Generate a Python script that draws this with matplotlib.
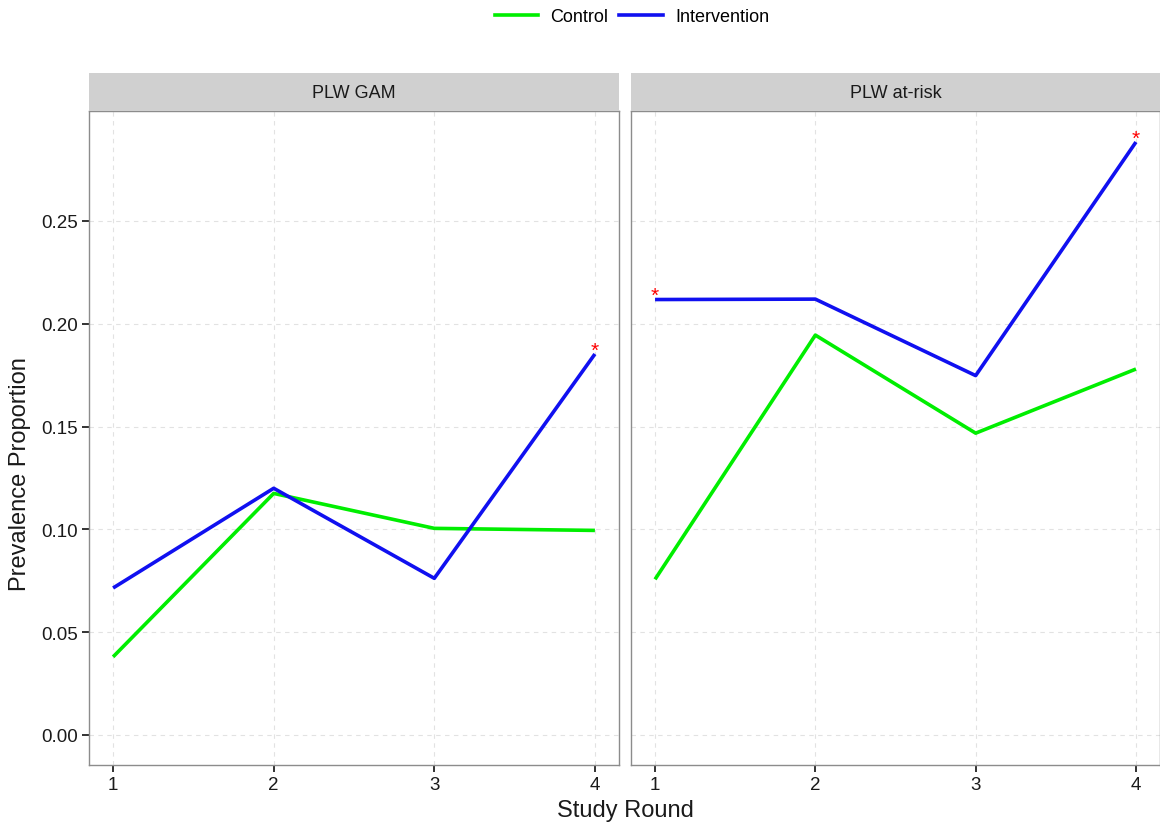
import matplotlib
matplotlib.use("Agg")
import matplotlib.pyplot as plt
from matplotlib.lines import Line2D

plt.rcParams['font.family'] = ['Liberation Sans', 'DejaVu Sans']

rounds = [1, 2, 3, 4]
panels = ["PLW GAM", "PLW at-risk"]
control_gam = [0.038, 0.1175, 0.1005, 0.0995]
interv_gam = [0.0715, 0.120, 0.0762, 0.1853]
control_risk = [0.0757, 0.1945, 0.1468, 0.1780]
interv_risk = [0.2118, 0.2120, 0.1748, 0.2884]
# significance flags (intervention)
sig_gam = [False, False, False, True]
sig_risk = [True, False, False, True]
yticks = [0.00, 0.05, 0.10, 0.15, 0.20, 0.25]
ytick_labels = ["0.00", "0.05", "0.10", "0.15", "0.20", "0.25"]

green = "#00EE00"
blue = "#1010F0"

W, H = 1160, 829
fig = plt.figure(figsize=(W / 100, H / 100), dpi=100)

top, bottom = 112, 766
strip_top = 74
lefts = [(89, 619), (631, 1160)]

data = [(control_gam, interv_gam, sig_gam), (control_risk, interv_risk, sig_risk)]
for i, ((x0, x1), (c, v, s)) in enumerate(zip(lefts, data)):
    ax = fig.add_axes([x0 / W, 1 - bottom / H, (x1 - x0) / W, (bottom - top) / H])
    ax.set_xlim(0.85, 4.15)
    ax.set_ylim(-0.0146, 0.3035)
    ax.set_xticks(rounds)
    ax.set_xticklabels([str(r) for r in rounds])
    ax.set_yticks(yticks)
    if i == 0:
        ax.set_yticklabels(ytick_labels)
    else:
        ax.tick_params(axis='y', left=False, labelleft=False)
    ax.grid(True, color="#E2E2E2", linestyle=(0, (4, 4)), linewidth=0.8)
    ax.set_axisbelow(True)
    for sp in ax.spines.values():
        sp.set_color("#8C8C8C")
        sp.set_linewidth(1.0)
    ax.tick_params(axis='both', colors="#333333", labelsize=13.5, length=5, width=1.4,
                   labelcolor="#1A1A1A", pad=3)
    ax.plot(rounds, c, color=green, linewidth=2.6, solid_capstyle='butt')
    ax.plot(rounds, v, color=blue, linewidth=2.6, solid_capstyle='butt')
    for r, val, flag in zip(rounds, v, s):
        if flag:
            ax.annotate("*", (r, val), xytext=(0, -4), textcoords="offset points",
                        ha="center", va="bottom", color="red", fontsize=15)
    # strip
    sax = fig.add_axes([x0 / W, 1 - top / H, (x1 - x0) / W, (top - strip_top) / H])
    sax.set_facecolor("#D0D0D0")
    sax.set_xticks([])
    sax.set_yticks([])
    for sp in sax.spines.values():
        sp.set_visible(False)
    sax.text(0.5, 0.5, panels[i], ha="center", va="center", fontsize=13, color="#1A1A1A",
             transform=sax.transAxes)

fig.text(625 / W, 1 - 811 / H, "Study Round", ha="center", va="center", fontsize=17, color="#1A1A1A")
fig.text(20 / W, 1 - 474 / H, "Prevalence Proportion", ha="center", va="center", rotation=90,
         fontsize=17, color="#1A1A1A")

handles = [Line2D([], [], color=green, linewidth=2.6), Line2D([], [], color=blue, linewidth=2.6)]
fig.legend(handles, ["Control", "Intervention"], loc="center", bbox_to_anchor=(632 / W, 1 - 18 / H),
           ncol=2, frameon=False, fontsize=13, handlelength=2.4, columnspacing=0.6, handletextpad=0.7)

fig.savefig("out.png", dpi=100, facecolor="white")
